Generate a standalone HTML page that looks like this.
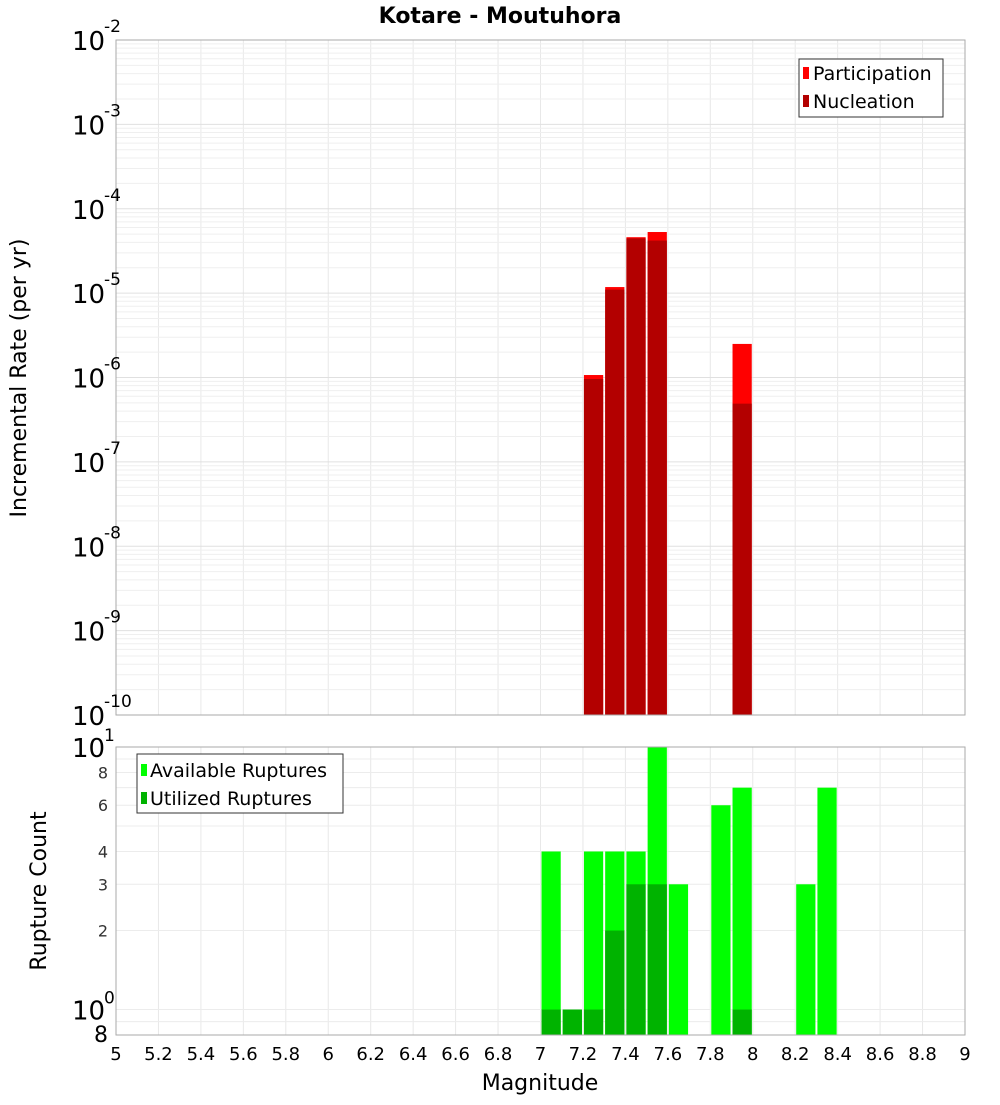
<!DOCTYPE html>
<html><head><meta charset="utf-8"><style>
body{margin:0;background:#fff;font-family:"Liberation Sans","DejaVu Sans",sans-serif;}
svg text{font-family:"DejaVu Sans","Liberation Sans",sans-serif;}
</style></head><body>
<svg id="chart" width="1000" height="1100" xmlns="http://www.w3.org/2000/svg">
<text x="500" y="23" text-anchor="middle" font-size="22" font-weight="bold">Kotare - Moutuhora</text>
<g id="topg"></g>
<g id="botg"></g>
<text transform="translate(26,378) rotate(-90)" text-anchor="middle" font-size="22">Incremental Rate (per yr)</text>
<text transform="translate(46,891) rotate(-90)" text-anchor="middle" font-size="22">Rupture Count</text>
<text x="540" y="1090" text-anchor="middle" font-size="22">Magnitude</text>
<g>
<rect x="799" y="59" width="144" height="58" fill="#fff" stroke="#333"/>
<rect x="803" y="67" width="6" height="12" fill="#ff0000"/><text x="813" y="80" font-size="19">Participation</text>
<rect x="803" y="95" width="6" height="12" fill="#b30000"/><text x="813" y="108" font-size="19">Nucleation</text>
</g>
<g>
<rect x="137" y="754" width="206" height="59" fill="#fff" stroke="#333"/>
<rect x="141" y="764" width="6" height="12" fill="#00ff00"/><text x="150" y="777" font-size="19">Available Ruptures</text>
<rect x="141" y="792" width="6" height="12" fill="#00b300"/><text x="150" y="805" font-size="19">Utilized Ruptures</text>
</g>
</svg>
<script>
const rateMags=[7.25,7.35,7.45,7.55,7.95];
const participation=[1.07e-6,1.18e-5,4.6e-5,5.3e-5,2.5e-6];
const nucleation=[0.96e-6,1.1e-5,4.45e-5,4.2e-5,0.49e-6];
const countMags=[7.05,7.15,7.25,7.35,7.45,7.55,7.65,7.85,7.95,8.25,8.35];
const available=[4,1,4,4,4,10,3,6,7,3,7];
const utilizedMags=[7.05,7.15,7.25,7.35,7.45,7.55,7.95];
const utilized=[1,1,1,2,3,3,1];
const xTicks=[5,5.2,5.4,5.6,5.8,6,6.2,6.4,6.6,6.8,7,7.2,7.4,7.6,7.8,8,8.2,8.4,8.6,8.8,9];
const topExps=[-2,-3,-4,-5,-6,-7,-8,-9,-10];
const botMinorTicks=[2,3,4,6,8];
const NS="http://www.w3.org/2000/svg";
const L=116,R=965,T1=40,B1=715,T2=747,B2=1035;
const xs=m=>L+(m-5)/4*(R-L);
const y1=v=>T1+(-2-Math.log10(v))*(B1-T1)/8;
const y2=v=>T2+(1-Math.log10(v))*(B2-T2)/(1-Math.log10(0.8));
function mk(p,t,a){const e=document.createElementNS(NS,t);for(const k in a)e.setAttribute(k,a[k]);p.appendChild(e);return e;}
const topG=document.getElementById('topg'),botG=document.getElementById('botg');
const chartEl=document.getElementById('chart');
for(const xt of xTicks){
 let g=mk(topG,'line',{x1:xs(xt),x2:xs(xt),y1:T1,y2:B1,stroke:'#e8e8e8'});
 
 
 g=mk(botG,'line',{x1:xs(xt),x2:xs(xt),y1:T2,y2:B2,stroke:'#e8e8e8'});
 
 
 const t=mk(chartEl,'text',{x:xs(xt),y:1060,'text-anchor':'middle','font-size':18});
 
 
 t.textContent=String(Math.round(xt*10)/10);
}
for(let e=-10;e<-2;e++)for(let k=1;k<10;k++){
 const v=k*Math.pow(10,e);const g=mk(topG,'line',{x1:L,x2:R,y1:y1(v),y2:y1(v),stroke:k==1?'#e0e0e0':'#efefef'});
 
 
}
for(const v of [1,2,3,4,5,6,7,8,9,0.9]){const g=mk(botG,'line',{x1:L,x2:R,y1:y2(v),y2:y2(v),stroke:'#ececec'});
 
 }
const w=(R-L)/40;
function bar(p,m,v,yf,base,col,name){const x0=xs(m)-w/2+1;const r=mk(p,'rect',{x:x0,y:yf(v),width:w-2,height:base-yf(v),fill:col});
 
 }
rateMags.forEach((m,i)=>bar(topG,m,participation[i],y1,B1,'#ff0000','participation-bar'));
rateMags.forEach((m,i)=>bar(topG,m,nucleation[i],y1,B1,'#b30000','nucleation-bar'));
countMags.forEach((m,i)=>bar(botG,m,available[i],y2,B2,'#00ff00','available-bar'));
utilizedMags.forEach((m,i)=>bar(botG,m,utilized[i],y2,B2,'#00b300','utilized-bar'));
let f=mk(topG,'rect',{x:L,y:T1,width:R-L,height:B1-T1,fill:'none',stroke:'#aaa'});


f=mk(botG,'rect',{x:L,y:T2,width:R-L,height:B2-T2,fill:'none',stroke:'#aaa'});


for(const e of topExps){const y=y1(Math.pow(10,e));
 const t=mk(topG,'text',{x:72,y:y+10,'font-size':26});
 
 
 t.textContent='10';
 const s=mk(topG,'text',{x:104,y:y-8,'font-size':17});
 
 
 s.textContent=String(e);}
[[10,'1'],[1,'0']].forEach(([v,ex])=>{const y=y2(v);
 const t=mk(botG,'text',{x:72,y:y+10,'font-size':26});
 
 
 t.textContent='10';
 const s=mk(botG,'text',{x:104,y:y-6,'font-size':17});
 
 
 s.textContent=ex;});
for(const v of botMinorTicks){const t=mk(botG,'text',{x:108,y:y2(v)+6,'text-anchor':'end','font-size':16,fill:'#333'});
 
 
 t.textContent=String(v);}
{const t=mk(botG,'text',{x:108,y:1042,'text-anchor':'end','font-size':22});
 
 
 t.textContent='8';}
</script>
</body></html>
